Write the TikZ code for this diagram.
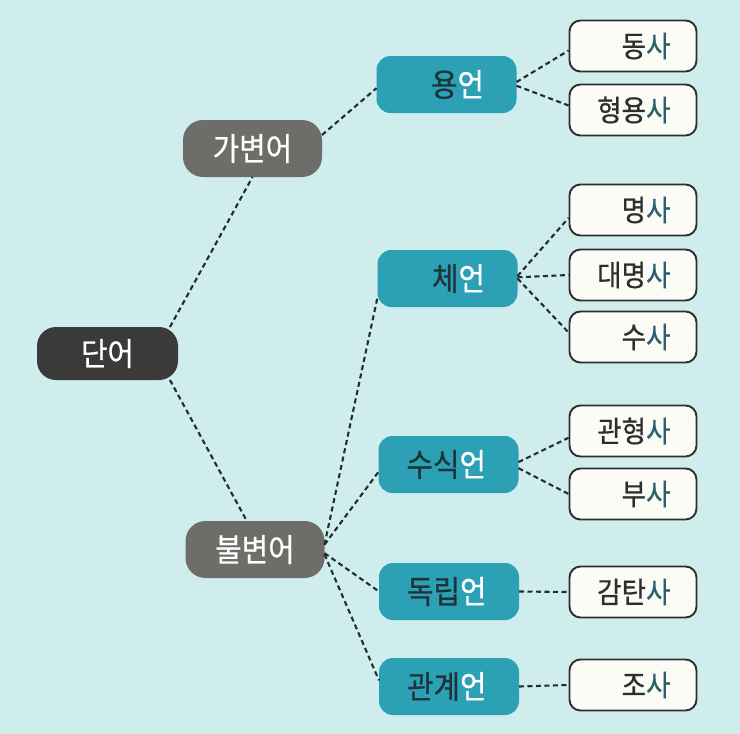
\documentclass[tikz,border=0pt]{standalone}
\usepackage{fontspec}
\newfontfamily\kr[FakeStretch=0.9,FakeBold=0.6]{Noto Sans CJK KR}
\definecolor{bgc}{RGB}{207,237,236}
\definecolor{darkn}{RGB}{58,58,58}
\definecolor{grayn}{RGB}{110,109,106}
\definecolor{tealn}{RGB}{44,160,181}
\definecolor{tealtext}{RGB}{28,52,58}
\definecolor{boxfill}{RGB}{252,252,247}
\definecolor{boxline}{RGB}{46,46,46}
\definecolor{satext}{RGB}{45,96,108}
\definecolor{linec}{RGB}{36,42,46}
\tikzset{
  dannode/.style={fill=darkn, rounded corners=19pt, minimum width=141pt, minimum height=53pt, inner sep=0pt, outer sep=0pt, text=white, font=\kr\fontsize{32}{35}\selectfont},
  graynode/.style={fill=grayn, rounded corners=20pt, minimum width=139pt, minimum height=57pt, inner sep=0pt, outer sep=0pt, text=white, font=\kr\fontsize{32}{35}\selectfont},
  tealnode/.style={fill=tealn, rounded corners=14pt, minimum width=140pt, minimum height=57pt, inner sep=0pt, outer sep=0pt, text=tealtext, font=\kr\fontsize{32}{35}\selectfont},
  leafnode/.style={fill=boxfill, draw=boxline, line width=1.9pt, rounded corners=11pt, minimum width=127pt, minimum height=51pt, inner sep=0pt, outer sep=0.9pt, text=boxline, font=\kr\fontsize{29.5}{32}\selectfont},
  conn/.style={draw=linec, line width=2.1pt, dash pattern=on 5pt off 3.5pt}
}
\newcommand{\tealtxt}[1]{\makebox[75pt][r]{#1\textcolor{white}{언}}}
\newcommand{\leaftxt}[1]{\makebox[75pt][r]{#1\textcolor{satext}{사}}}
\begin{document}
\begin{tikzpicture}[x=1pt,y=-1pt]
\fill[bgc] (0,0) rectangle (740,734);
\useasboundingbox (0,0) rectangle (740,734);

\node[dannode] (dan) at (107.5,353.5) {단어};
\node[graynode] (gab) at (252.5,148.5) {가변어};
\node[graynode] (bul) at (255,549.5) {불변어};

\node[tealnode] (yong) at (446.5,84.5) {\tealtxt{용}};
\node[tealnode] (che) at (447.5,278.5) {\tealtxt{체}};
\node[tealnode] (susik) at (448.5,464.5) {\tealtxt{수식}};
\node[tealnode] (dok) at (449,591.5) {\tealtxt{독립}};
\node[tealnode] (gwan) at (449,686.5) {\tealtxt{관계}};

\node[leafnode] (dong) at (633,46) {\leaftxt{동}};
\node[leafnode] (hyeong) at (633,110) {\leaftxt{형용}};
\node[leafnode] (myeong) at (633,210) {\leaftxt{명}};
\node[leafnode] (daem) at (633,275) {\leaftxt{대명}};
\node[leafnode] (su) at (633,337) {\leaftxt{수}};
\node[leafnode] (gwanh) at (633,431) {\leaftxt{관형}};
\node[leafnode] (bu) at (633,494) {\leaftxt{부}};
\node[leafnode] (gamtan) at (633,592) {\leaftxt{감탄}};
\node[leafnode] (jo) at (633,685) {\leaftxt{조}};

\draw[conn] (dan.23) -- (gab.south);
\draw[conn] (dan.-23) -- (bul.106);
\draw[conn] (gab.11) -- (yong.183);
\draw[conn] (bul.4) -- (che.195);
\draw[conn] (bul.4) -- (susik.186);
\draw[conn] (bul.-3) -- (dok.west);
\draw[conn] (bul.-4) -- (gwan.175);

\draw[conn] (yong.2) -- (dong.184);
\draw[conn] (yong.-1) -- (hyeong.176);
\draw[conn] (che.2) -- (myeong.187);
\draw[conn] (che.1) -- (daem.west);
\draw[conn] (che.0) -- (su.176);
\draw[conn] (susik.2) -- (gwanh.186);
\draw[conn] (susik.-3) -- (bu.west);
\draw[conn] (dok.east) -- (gamtan.west);
\draw[conn] (gwan.east) -- (jo.west);
\end{tikzpicture}
\end{document}
